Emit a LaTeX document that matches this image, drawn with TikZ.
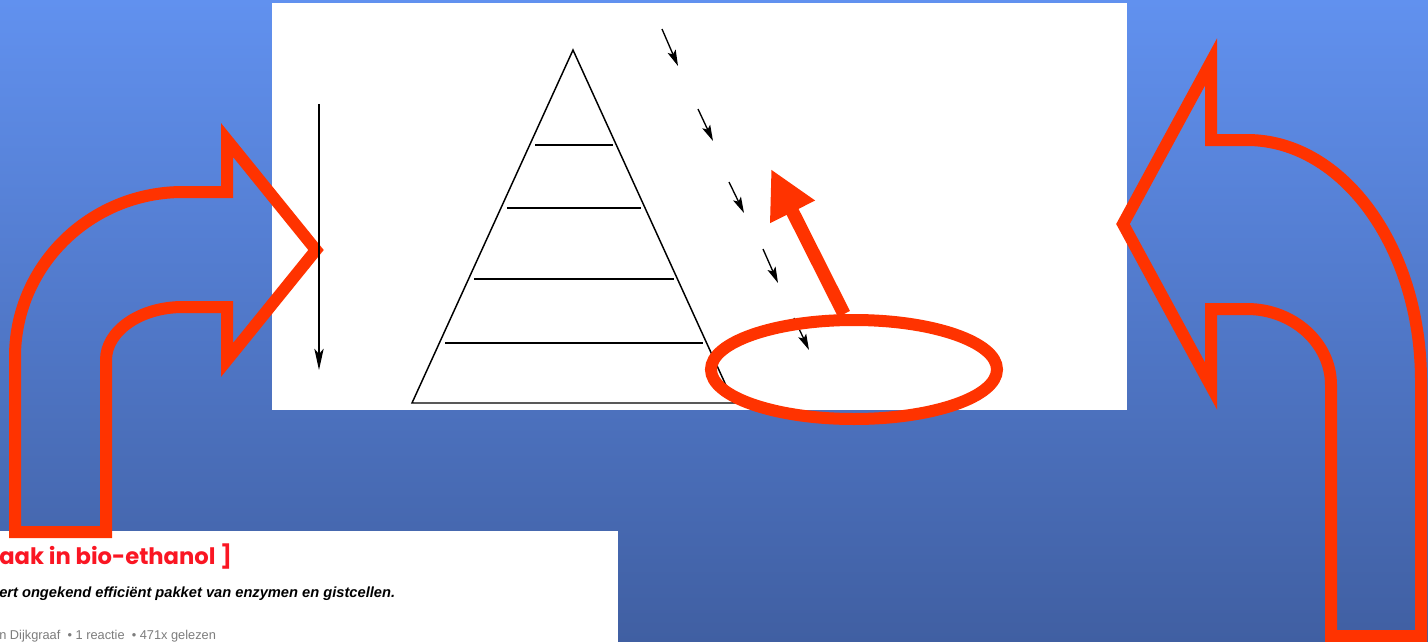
\documentclass[tikz,border=0pt]{standalone}
\usepackage{fontspec}
\setmainfont{Liberation Sans}
\newfontfamily\headfont{Poppins}
\usetikzlibrary{shapes.geometric,arrows.meta,positioning}

\definecolor{bgtop}{RGB}{97,145,239}
\definecolor{bgbot}{RGB}{64,95,162}
\definecolor{alarm}{RGB}{255,51,0}
\definecolor{headred}{RGB}{250,22,35}
\definecolor{metagray}{RGB}{125,125,125}

\begin{document}
\begin{tikzpicture}[
    x=0.75pt, y=-0.75pt,
    panel/.style={fill=white, draw=none},
    bigturn/.style={draw=alarm, line width=9pt, line join=miter, miter limit=12},
    pyr/.style={draw=black, line width=1.1pt, line join=miter},
    rung/.style={draw=black, line width=1.5pt},
    drop/.style={-{Stealth[length=12pt, width=6.5pt, inset=2.5pt]}, line width=1pt},
    fall/.style={-{Stealth[length=16pt, width=7pt, inset=4pt]}, line width=1pt},
    spotring/.style={ellipse, draw=alarm, line width=9pt, minimum width=214.5pt, minimum height=74.25pt, inner sep=0pt},
    pointer/.style={-{Triangle[length=36pt, width=35pt]}, draw=alarm, line width=10pt},
    headline/.style={font=\headfont\bfseries\fontsize{17}{17}\selectfont, text=headred, inner sep=0pt},
    subline/.style={font=\bfseries\itshape\fontsize{11}{11}\selectfont, inner sep=0pt},
    metaline/.style={font=\fontsize{9.6}{9.6}\selectfont, text=metagray, inner sep=0pt}
]
\useasboundingbox (0,0) rectangle (1428,642);
% ----- background -----
\shade[top color=bgtop, bottom color=bgbot] (0,0) rectangle (1428,642);
\fill[panel] (272,3) rectangle (1127,410);
\fill[panel] (0,531) rectangle (618,642);
% ----- clipping text -----
\node[headline, anchor=base west] (head) at (-1,564) {aak in bio-ethanol ]};
\node[subline, anchor=base west] (lead) at (-1,597) {ert ongekend efficiënt pakket van enzymen en gistcellen.};
\node[metaline, anchor=base west] (meta) at (-1,639) {n Dijkgraaf\ \ \textbullet\ 1 reactie\ \ \textbullet\ 471x gelezen};
% ----- curved arrows -----
\draw[bigturn] (15,532) -- (15,357) .. controls (15,266) and (90,192) .. (183,192)
    -- (227,192) -- (227,140) -- (316,250) -- (227,360) -- (227,307) -- (183,307)
    .. controls (140,307) and (106,331) .. (106,360) -- (106,532) -- cycle;
\draw[bigturn] (1331,636) -- (1331,385) .. controls (1331,343) and (1293,309) .. (1247,309)
    -- (1211,309) -- (1211,386) -- (1123,224) -- (1211,62) -- (1211,140) -- (1247,140)
    .. controls (1343,140) and (1421,248) .. (1421,381) -- (1421,636) -- cycle;
% ----- pyramid -----
\coordinate (top) at (319,104);
\coordinate (bottom) at (319,370);
\draw[fall] (top) -- (bottom);
\coordinate (apex) at (573,50);
\coordinate (baseR) at (734,403);
\coordinate (baseL) at (412,403);
\draw[pyr] (apex) -- (baseR) -- (baseL) -- cycle;
\draw[rung] (535,145) -- (613,145);
\draw[rung] (507,208) -- (641,208);
\draw[rung] (474,279) -- (674,279);
\draw[rung] (445,343) -- (703,343);
\foreach \i/\sx/\sy/\ex/\ey in {1/662/29/678/66, 2/698/109/713/141, 3/729/182/744/213, 4/763/249/778/283, 5/794/318/809/350} {
  \coordinate (d\i s) at (\sx,\sy);
  \coordinate (d\i e) at (\ex,\ey);
  \draw[drop] (d\i s) -- (d\i e);
}
% ----- highlight -----
\node[spotring] (spot) at (854,369.5) {};
\coordinate (tip) at (771,169);
\draw[pointer] ([xshift=-7.5pt]spot.north) -- (tip);
\end{tikzpicture}
\end{document}
